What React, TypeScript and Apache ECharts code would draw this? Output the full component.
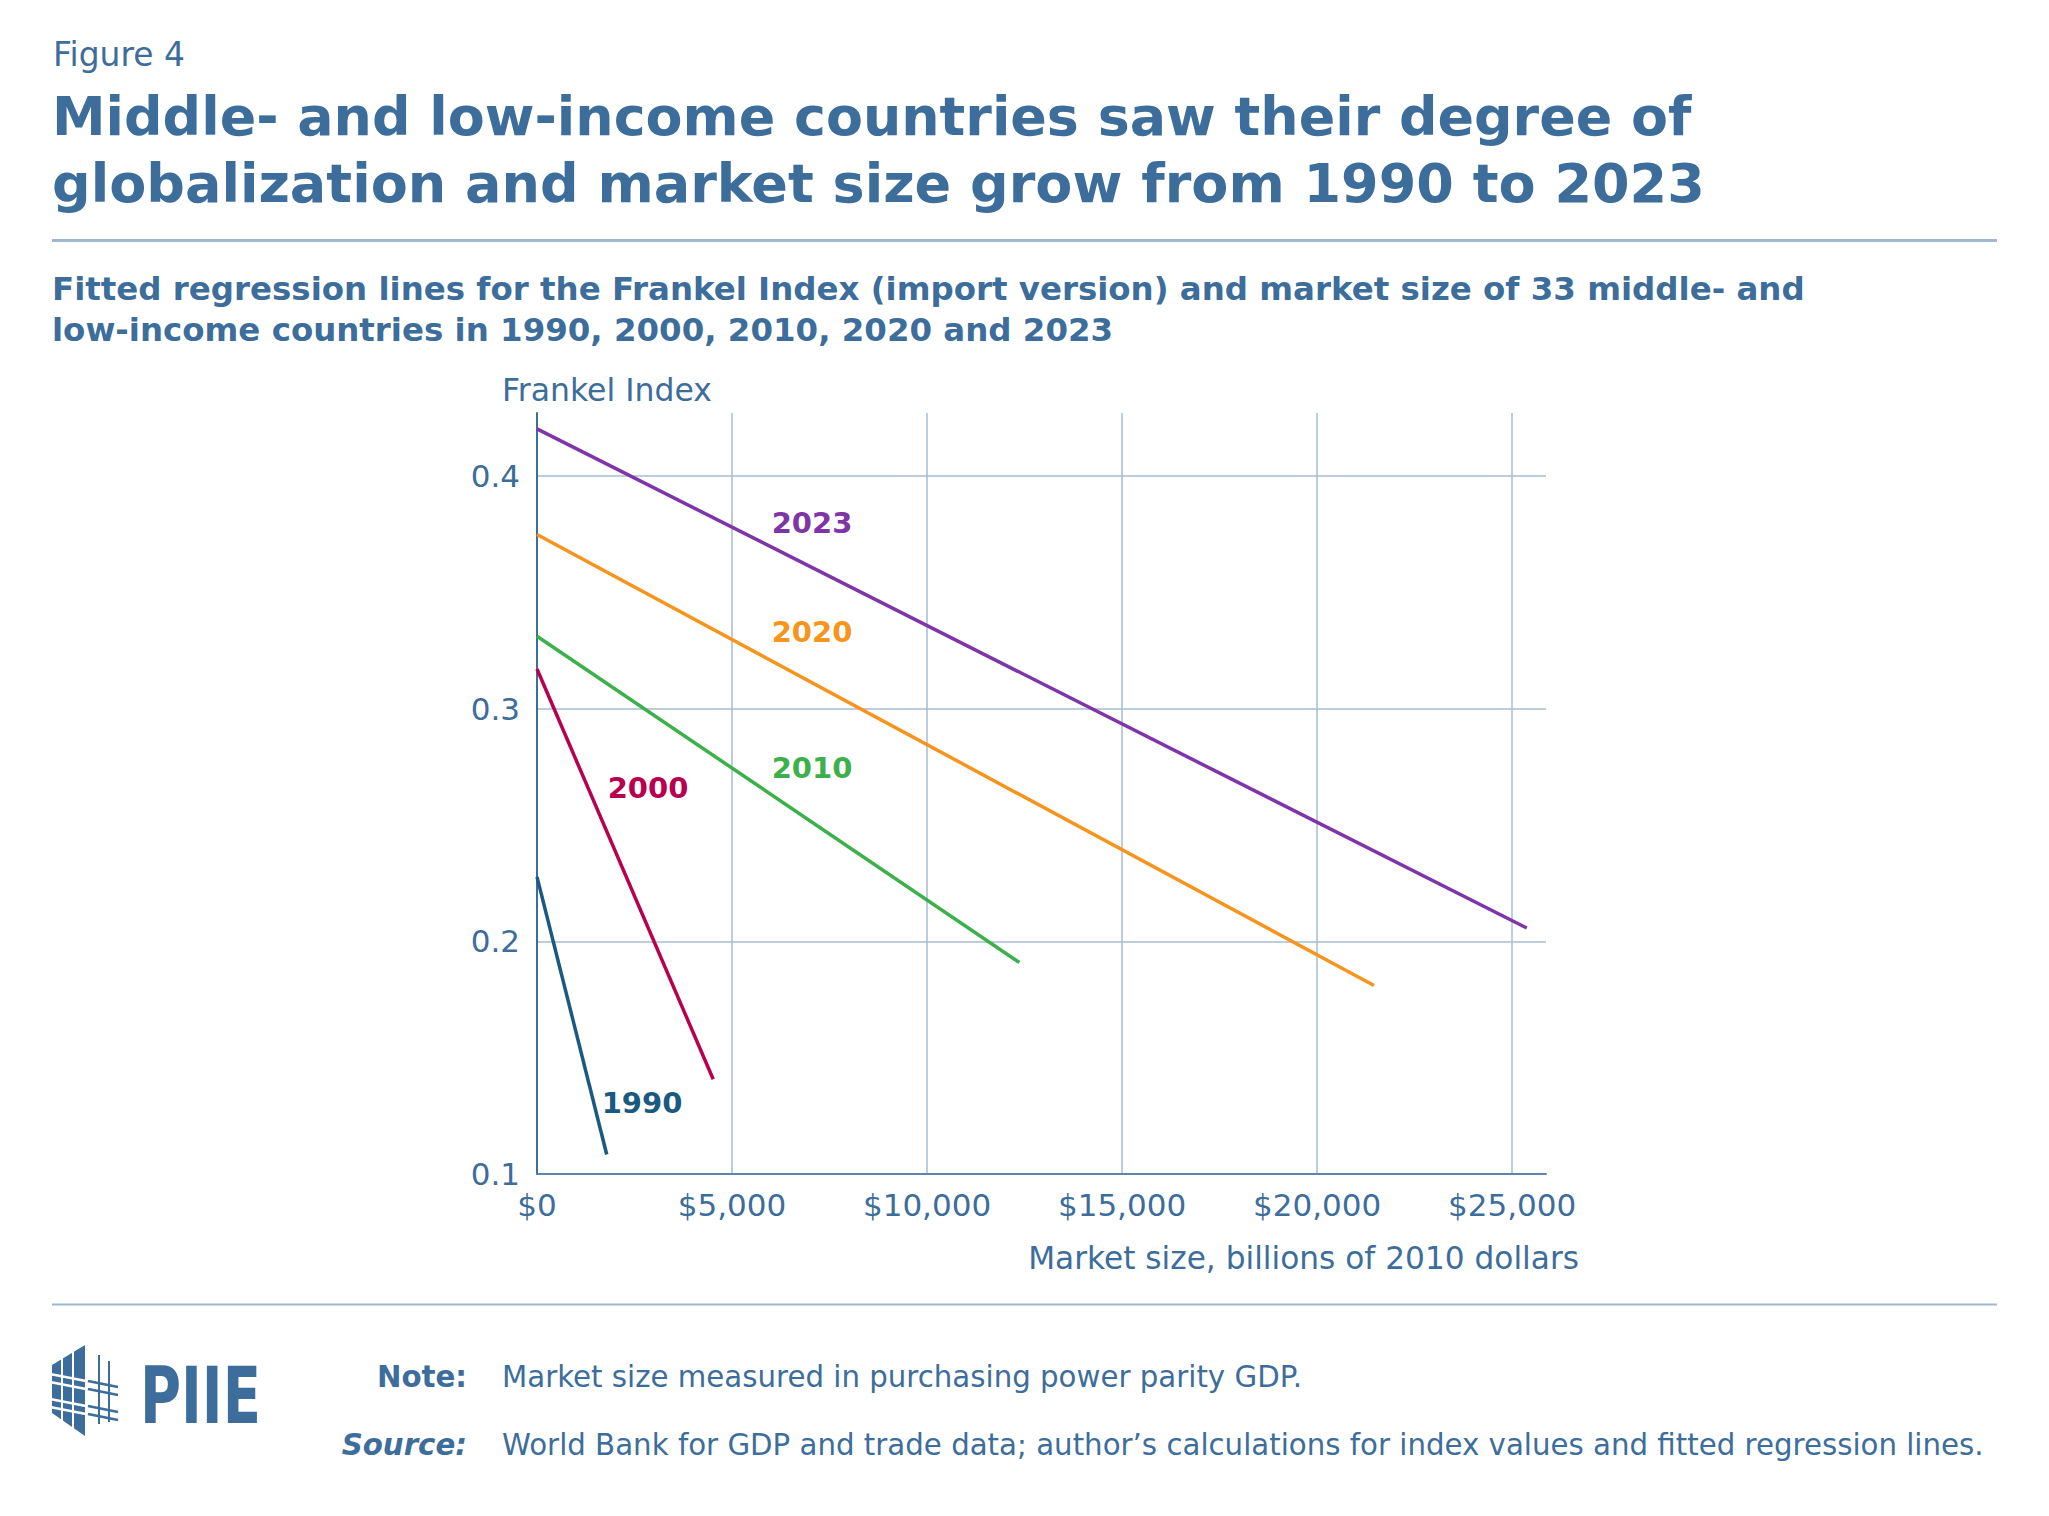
import React, { useEffect, useRef } from "react";
import * as echarts from "echarts";

// Regression lines: one per year, from the intercept to the largest market in that year
const years = ["1990", "2000", "2010", "2020", "2023"];
const lineColors = ["#1b5a80", "#b8004f", "#3cb04b", "#f7941d", "#7f35a8"];
const startSize = [0, 0, 0, 0, 0];
const startIndex = [0.2277, 0.317, 0.3311, 0.3748, 0.4202];
const endSize = [1788, 4518, 12368, 21461, 25377];
const endIndex = [0.1084, 0.1407, 0.1909, 0.181, 0.2057];

// Where each year's label sits (market size, index value)
const labelSize = [2692, 2846, 7051, 7051, 7051];
const labelIndex = [0.1305, 0.2658, 0.2744, 0.3328, 0.3797];

// Axis ticks
const xTickValues = [0, 5000, 10000, 15000, 20000, 25000];
const xTickLabels = ["$0", "$5,000", "$10,000", "$15,000", "$20,000", "$25,000"];
const yTickValues = [0.1, 0.2, 0.3, 0.4];
const yTickLabels = ["0.1", "0.2", "0.3", "0.4"];

const figureLabel = "Figure 4";
const titleLines = [
  "Middle- and low-income countries saw their degree of",
  "globalization and market size grow from 1990 to 2023",
];
const subtitleLines = [
  "Fitted regression lines for the Frankel Index (import version) and market size of 33 middle- and",
  "low-income countries in 1990, 2000, 2010, 2020 and 2023",
];
const yAxisTitle = "Frankel Index";
const xAxisTitle = "Market size, billions of 2010 dollars";
const noteLabel = "Note:";
const noteText = "Market size measured in purchasing power parity GDP.";
const sourceLabel = "Source:";
const sourceText =
  "World Bank for GDP and trade data; author\u2019s calculations for index values and fitted regression lines.";

const FONT = '"DejaVu Sans", "Noto Sans", sans-serif';
const BLUE = "#3d6d9a";
const RULE = "#9fb8cf";
const GRID = "#a6bcd2";

let measureCtx: CanvasRenderingContext2D | null = null;
function textWidth(text: string, weight: string | number, size: number, style = "normal") {
  if (!measureCtx) measureCtx = document.createElement("canvas").getContext("2d");
  if (!measureCtx) return text.length * size * 0.6;
  measureCtx.font = `${style} ${weight} ${size}px ${FONT}`;
  return measureCtx.measureText(text).width;
}
// font size that makes a string span the given width
function fitSize(text: string, weight: string | number, width: number, style = "normal") {
  return (100 * width) / textWidth(text, weight, 100, style);
}

function label(
  text: string,
  x: number,
  y: number,
  size: number,
  weight: string | number,
  align: "left" | "right" | "center" = "left",
  fontStyle = "normal",
  fill = BLUE
) {
  return {
    type: "text",
    x,
    y,
    silent: true,
    style: {
      text,
      fill,
      fontFamily: FONT,
      fontSize: size,
      fontWeight: weight,
      fontStyle,
      lineHeight: Math.round(size * 1.05),
      align,
      textAlign: align,
      verticalAlign: "middle",
      textVerticalAlign: "middle",
    },
  };
}

function logo() {
  const children: any[] = [];
  // building face
  children.push({
    type: "polygon",
    shape: { points: [[52, 1365], [85, 1345], [85, 1436], [52, 1413]] },
    style: { fill: BLUE },
  });
  // window mullions
  [62, 73].forEach((x) =>
    children.push({
      type: "line",
      shape: { x1: x, y1: 1340, x2: x, y2: 1440 },
      style: { stroke: "#ffffff", lineWidth: 2 },
    })
  );
  // floor beams: white across the face, blue beyond it
  [1378, 1386, 1403, 1411].forEach((y) => {
    children.push({
      type: "line",
      shape: { x1: 50, y1: y - 4, x2: 86, y2: y + 3 },
      style: { stroke: "#ffffff", lineWidth: 2.5 },
    });
    children.push({
      type: "line",
      shape: { x1: 88, y1: y + 3, x2: 118, y2: y + 9 },
      style: { stroke: BLUE, lineWidth: 2.5 },
    });
  });
  // open frame columns
  children.push({
    type: "line",
    shape: { x1: 99, y1: 1355, x2: 99, y2: 1424 },
    style: { stroke: BLUE, lineWidth: 2 },
  });
  children.push({
    type: "line",
    shape: { x1: 109, y1: 1361, x2: 109, y2: 1422 },
    style: { stroke: BLUE, lineWidth: 2 },
  });
  const piieSize = 78;
  const natural = textWidth("PIIE", "bold", piieSize);
  children.push({
    type: "text",
    x: 140,
    y: 1396,
    scaleX: 121 / natural,
    style: {
      text: "PIIE",
      fill: BLUE,
      fontFamily: FONT,
      fontSize: piieSize,
      fontWeight: "bold",
      lineHeight: 78,
      align: "left",
      textAlign: "left",
      verticalAlign: "middle",
      textVerticalAlign: "middle",
    },
  });
  return { type: "group", silent: true, children };
}

export default function App() {
  const ref = useRef<HTMLDivElement>(null);

  useEffect(() => {
    if (!ref.current) return;
    const chart = echarts.init(ref.current, undefined, { renderer: "svg" });

    const titleSize1 = fitSize(titleLines[0], "bold", 1640);
    const titleSize2 = fitSize(titleLines[1], "bold", 1653);
    const subSize = fitSize(subtitleLines[0], "bold", 1753);
    const figSize = fitSize(figureLabel, "normal", 132);
    const yTitleSize = fitSize(yAxisTitle, "normal", 210);
    const xTitleSize = fitSize(xAxisTitle, "normal", 551);
    const noteSize = fitSize(sourceText, "normal", 1482);

    const lineSeries = years.map((year, i) => ({
      type: "line",
      name: year,
      data: [
        [startSize[i], startIndex[i]],
        [endSize[i], endIndex[i]],
      ],
      symbol: "none",
      z: 3,
      lineStyle: { color: lineColors[i], width: 3.5 },
      silent: true,
    }));

    const labelSeries = {
      type: "scatter",
      z: 4,
      symbolSize: 1,
      itemStyle: { color: "rgba(255,255,255,0)" },
      silent: true,
      data: years.map((year, i) => ({
        name: year,
        value: [labelSize[i], labelIndex[i]],
        label: { color: lineColors[i] },
      })),
      label: {
        show: true,
        position: "inside",
        formatter: "{b}",
        fontFamily: FONT,
        fontWeight: "bold",
        fontSize: 29,
        textBorderWidth: 0,
        textBorderColor: "transparent",
        opacity: 1,
      },
    };

    chart.setOption({
      animation: false,
      backgroundColor: "#ffffff",
      grid: { left: 537, top: 413, width: 1009, height: 761, containLabel: false },
      xAxis: {
        type: "value",
        min: 0,
        max: 25870,
        interval: 5000,
        axisLine: { show: true, lineStyle: { color: "#5a85ae", width: 2 } },
        axisTick: { show: false },
        splitLine: {
          show: true,
          showMinLine: false,
          showMaxLine: false,
          lineStyle: { color: GRID, width: 1.5 },
        },
        axisLabel: {
          show: true,
          showMaxLabel: false,
          margin: 15,
          color: BLUE,
          fontFamily: FONT,
          fontSize: 31,
          formatter: (v: number) => {
            const k = xTickValues.findIndex((t) => Math.abs(t - v) < 1);
            return k >= 0 ? xTickLabels[k] : "";
          },
        },
      },
      yAxis: {
        type: "value",
        min: 0.1,
        max: 0.427,
        interval: 0.1,
        axisLine: { show: true, lineStyle: { color: BLUE, width: 2 } },
        axisTick: { show: false },
        splitLine: {
          show: true,
          showMinLine: false,
          showMaxLine: false,
          lineStyle: { color: GRID, width: 1.5 },
        },
        axisLabel: {
          show: true,
          showMaxLabel: false,
          margin: 17,
          color: BLUE,
          fontFamily: FONT,
          fontSize: 31,
          formatter: (v: number) => {
            const k = yTickValues.findIndex((t) => Math.abs(t - v) < 1e-6);
            return k >= 0 ? yTickLabels[k] : "";
          },
        },
      },
      series: [...lineSeries, labelSeries],
      graphic: [
        label(figureLabel, 53, 54, figSize, "normal"),
        label(titleLines[0], 52, 116, titleSize1, "bold"),
        label(titleLines[1], 52, 183, titleSize2, "bold"),
        {
          type: "line",
          silent: true,
          shape: { x1: 52, y1: 240.5, x2: 1997, y2: 240.5 },
          style: { stroke: RULE, lineWidth: 3 },
        },
        label(subtitleLines[0], 52, 289, subSize, "bold"),
        label(subtitleLines[1], 52, 330, subSize, "bold"),
        label(yAxisTitle, 502, 390, yTitleSize, "normal"),
        label(xAxisTitle, 1579, 1258, xTitleSize, "normal", "right"),
        {
          type: "line",
          silent: true,
          shape: { x1: 52, y1: 1304.5, x2: 1997, y2: 1304.5 },
          style: { stroke: RULE, lineWidth: 2 },
        },
        logo(),
        label(noteLabel, 467, 1377, noteSize, "bold", "right"),
        label(noteText, 502, 1377, noteSize, "normal"),
        label(sourceLabel, 467, 1445, noteSize, "bold", "right", "italic"),
        label(sourceText, 502, 1445, noteSize, "normal"),
      ],
    });

    return () => chart.dispose();
  }, []);

  return (
    <div
      ref={ref}
      style={{ position: "fixed", left: 0, top: 0, width: 2049, height: 1516, background: "#ffffff" }}
    />
  );
}
